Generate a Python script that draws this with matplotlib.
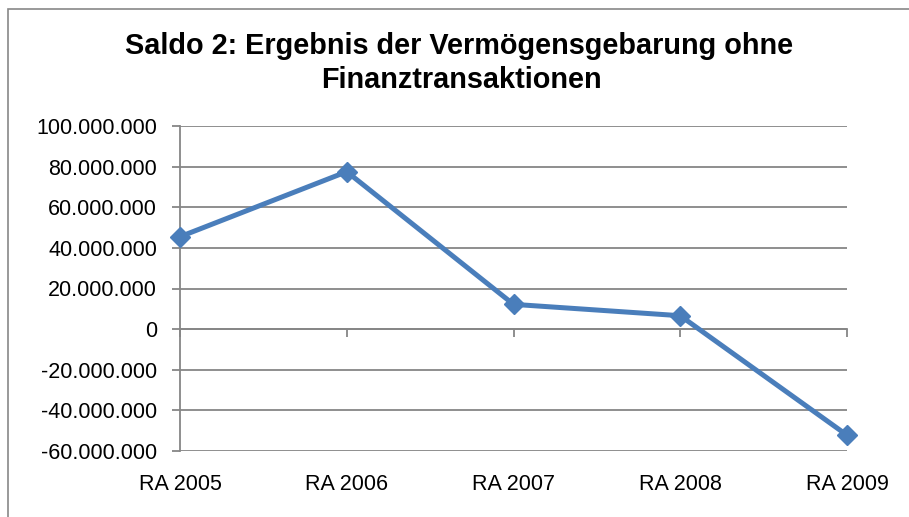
import matplotlib
matplotlib.use("Agg")
import matplotlib.pyplot as plt
from matplotlib.patches import Rectangle
from matplotlib.ticker import FuncFormatter
import matplotlib.transforms as mtransforms

categories = ["RA 2005", "RA 2006", "RA 2007", "RA 2008", "RA 2009"]
values = [45500000, 77500000, 12200000, 6600000, -52200000]
y_ticks = [-60000000, -40000000, -20000000, 0, 20000000, 40000000, 60000000, 80000000, 100000000]
title_lines = ["Saldo 2: Ergebnis der Vermögensgebarung ohne", "Finanztransaktionen"]

plt.rcParams['font.family'] = ['Liberation Sans', 'DejaVu Sans']

W, H = 909, 517
fig = plt.figure(figsize=(W / 100, H / 100), dpi=100)
ax = fig.add_axes([180 / W, 1 - 451 / H, (847 - 180) / W, (451 - 126) / H])

grid_c = "#868686"
x = list(range(len(categories)))
ax.plot(x, values, color="#4A7EBB", lw=3.6, marker="D", markersize=10,
        markerfacecolor="#4A7EBB", markeredgecolor="#4A7EBB", zorder=5, clip_on=False)

ax.set_xlim(0, len(categories) - 1)
ax.set_ylim(y_ticks[0], y_ticks[-1])
ax.set_yticks(y_ticks)
ax.yaxis.set_major_formatter(FuncFormatter(lambda v, p: f"{int(v):,}".replace(",", ".")))
ax.grid(axis="y", color=grid_c, lw=1.3)
ax.set_axisbelow(True)

for s in ["top", "right"]:
    ax.spines[s].set_visible(False)
ax.spines["left"].set_color(grid_c)
ax.spines["left"].set_linewidth(1.3)
ax.spines["bottom"].set_position(("data", 0))
ax.spines["bottom"].set_color(grid_c)
ax.spines["bottom"].set_linewidth(1.3)

ax.set_xticks(x)
ax.tick_params(axis="x", length=6, width=1.3, color=grid_c, labelbottom=False)
ax.tick_params(axis="y", length=6, width=1.3, color=grid_c, labelsize=15.5, pad=10.5)

trans = mtransforms.blended_transform_factory(ax.transData, ax.transAxes)
for xi, lab in zip(x, categories):
    ax.text(xi, 0, lab, transform=trans + mtransforms.ScaledTranslation(0, -0.34, fig.dpi_scale_trans),
            ha="center", va="center", fontsize=15.5)

fig.text(459 / W, 1 - 53.5 / H, title_lines[0], ha="center", va="baseline", fontsize=20.8,
         fontweight="bold")
fig.text(461 / W, 1 - 88 / H, title_lines[1], ha="center", va="baseline", fontsize=20.8,
         fontweight="bold")

fig.patches.append(Rectangle((8 / W, -0.1), 1.2, 1 - 9 / H + 0.1, transform=fig.transFigure,
                             fill=False, edgecolor="#888888", lw=1.2))

fig.savefig("out.png", dpi=100)
